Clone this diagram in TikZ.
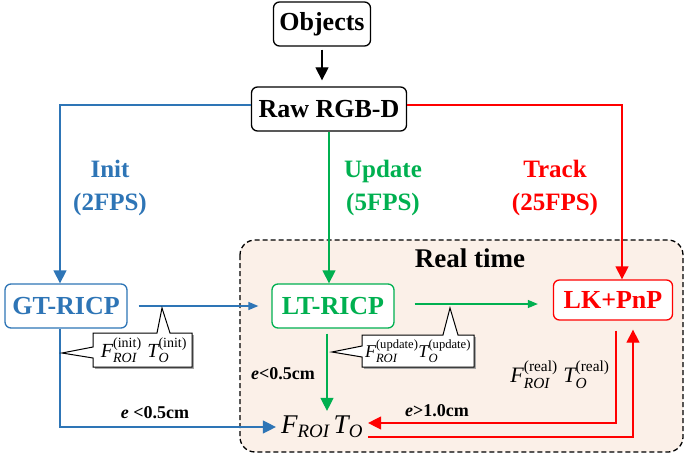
\documentclass[tikz,border=0pt]{standalone}
\usepackage{amsmath}
\usepackage{fontspec}
\setmainfont{Liberation Serif}
\usetikzlibrary{arrows.meta, positioning, calc}
\definecolor{ublau}{HTML}{2E75B6}
\definecolor{ugruen}{HTML}{00B050}
\definecolor{urot}{HTML}{FF0000}
\definecolor{rtfill}{HTML}{FBF0E8}
\newcommand{\FRo}[1]{\textit{F}^{\text{(#1)}}_{\textit{ROI}}}
\newcommand{\TOo}[1]{\textit{T}^{\text{(#1)}}_{\textit{O}}}

\begin{document}
\begin{tikzpicture}[
    x=1pt, y=-1pt,
    box/.style={rectangle, rounded corners=6pt, draw, line width=1.3pt,
                fill=white, minimum height=44pt, inner sep=2pt,
                font=\fontsize{26}{28}\selectfont\bfseries},
    arr/.style={-{Triangle[length=13pt,width=13pt]}, line width=1.3pt},
    arrs/.style={-{Triangle[length=10pt,width=8pt]}, line width=1.3pt},
    rate/.style={align=center, font=\fontsize{25}{33}\selectfont\bfseries},
    lab/.style={font=\fontsize{18}{20}\selectfont\bfseries},
    callout/.style={draw, line width=1pt, fill=white, line join=miter}
  ]
  \useasboundingbox (0,0) rectangle (685,457);

  % real time region
  \draw[dash pattern=on 5pt off 3pt, rounded corners=15pt, fill=rtfill, line width=1.3pt]
    (240,240) rectangle (683,452);
  \node[font=\fontsize{27}{30}\selectfont\bfseries] (rt) at (470,258) {Real time};

  % boxes
  \node[box, minimum width=97pt] (obj) at (322,24) {Objects};
  \node[box, minimum width=155pt] (raw) at (329,109) {Raw RGB-D};
  \node[box, minimum width=122pt, draw=ublau, text=ublau] (gt) at (66,306) {GT-RICP};
  \node[box, minimum width=122pt, draw=ugruen, text=ugruen] (lt) at (333,306) {LT-RICP};
  \node[box, minimum width=119pt, minimum height=40pt, draw=urot, text=urot] (lk) at (613,300) {LK+PnP};
  \node[inner sep=5pt, font=\fontsize{27}{30}\selectfont] (fro) at (322,427)
    {$\textit{F}_{\textit{ROI}}\,\textit{T}_{\textit{O}}$};

  % rates
  \node[rate, text=ublau] (init) at (110,188) {Init\\(2FPS)};
  \node[rate, text=ugruen] (upd) at (383,188) {Update\\(5FPS)};
  \node[rate, text=urot] (trk) at (555,188) {Track\\(25FPS)};

  % connectors
  \draw[arr, shorten <=3pt, shorten >=6pt] (obj) -- (obj |- raw.north);
  \draw[arr, ublau] ([yshift=4pt]raw.west) -| ([xshift=-6pt]gt.north);
  \draw[arr, ugruen] (raw.south) -- (raw.south |- lt.north);
  \draw[arr, urot] ([yshift=4pt]raw.east) -| ([xshift=9pt]lk.north);
  \draw[arrs, ublau, shorten <=11pt, shorten >=13pt] (gt) -- (lt);
  \draw[arrs, ugruen, shorten <=20pt, shorten >=15pt]
    ([yshift=2pt]lt.east) -- ([yshift=2pt]lt.east -| lk.west);
  \draw[arr, ublau] ([xshift=-6pt]gt.south) |- (fro.west);
  \draw[arr, ugruen, shorten <=5pt] ([xshift=-6pt]lt.south) -- ([xshift=-6pt]lt.south |- fro.north);
  \draw[arr, urot] ([xshift=3pt, yshift=-10pt]lk.south) |- ([yshift=4pt]fro.east);
  \draw[arr, urot] ([yshift=-10pt]fro.east) -| ([xshift=20pt, yshift=-9pt]lk.south);

  % labels
  \node[lab] (e1) at (155,413) {\textit{e} <0.5cm};
  \node[lab] (e2) at (283,374) {\textit{e}<0.5cm};
  \node[lab] (e3) at (437,411) {\textit{e}>1.0cm};

  % callouts
  \fill[gray!70] ([shift={(2,2)}]93,333) rectangle ([shift={(2,2)}]192,367);
  \draw[callout] (93,333) -- (157,333) -- (162,308) -- (170,333) -- (192,333)
    -- (192,367) -- (93,367) -- (93,358) -- (62,353) -- (93,347) -- cycle;
  \node[font=\fontsize{20}{22}\selectfont] (cin) at (144,350) {$\FRo{init}\;\TOo{init}$};

  \fill[gray!70] ([shift={(2,2)}]362,335) rectangle ([shift={(2,2)}]474,367);
  \draw[callout] (362,335) -- (443,335) -- (450,308) -- (458,335) -- (474,335)
    -- (474,367) -- (362,367) -- (362,357) -- (332,352) -- (362,346) -- cycle;
  \node[font=\fontsize{18}{20}\selectfont, inner sep=1pt] (cup) at (418,351) {$\FRo{update}\TOo{update}$};

  \node[font=\fontsize{22}{24}\selectfont] (crl) at (560,375) {$\FRo{real}\;\TOo{real}$};
\end{tikzpicture}
\end{document}
